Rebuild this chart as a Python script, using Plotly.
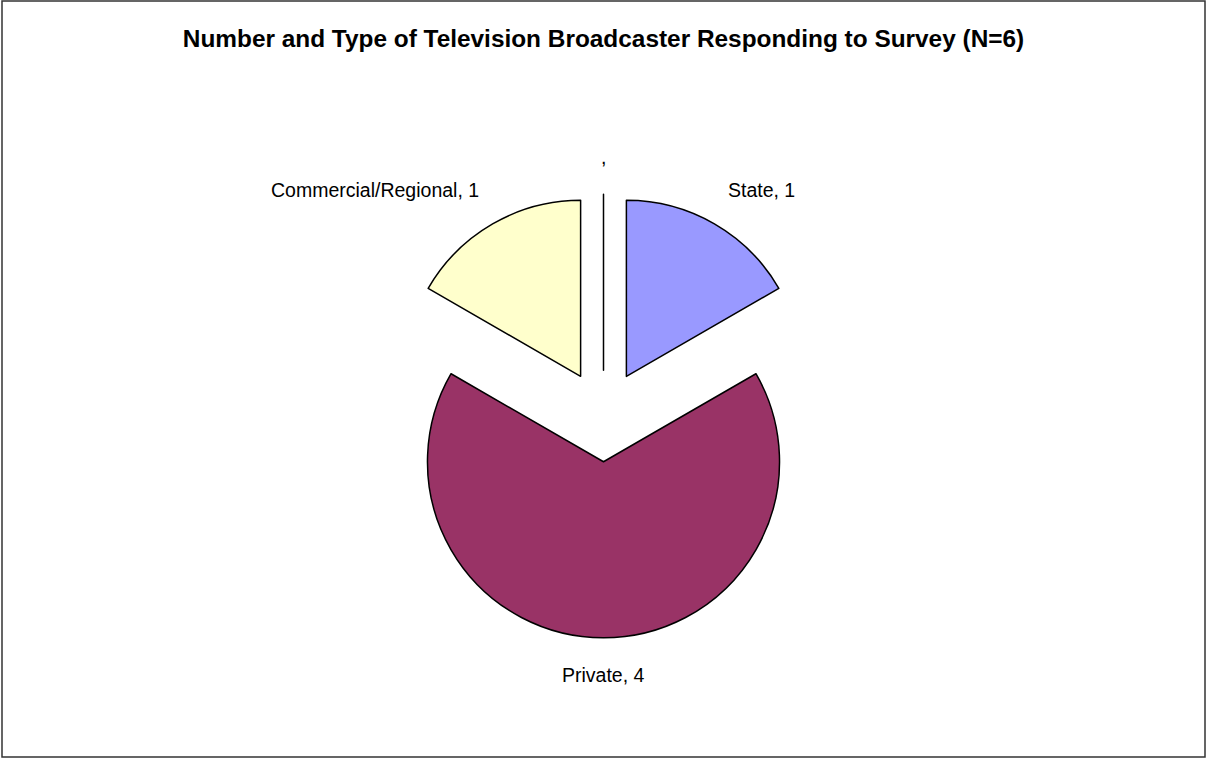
import math
import plotly.graph_objects as go

# Data
categories = ["", "State", "Private", "Commercial/Regional"]
values = [0, 1, 4, 1]
label_texts = [",", "State, 1", "Private, 4", "Commercial/Regional, 1"]
colors = ["#FFFFFF", "#9999FF", "#993366", "#FFFFCC"]
pulls = [0.26, 0.26, 0.26, 0.26]

W, H = 1207, 758
DOM_X = [0.2, 0.8]
DOM_Y = [0.1586, 0.7438]
FONT = "Liberation Sans, Arial"

fig = go.Figure(
    go.Pie(
        labels=categories,
        values=values,
        textinfo="none",
        sort=False,
        direction="clockwise",
        rotation=0,
        pull=pulls,
        marker=dict(colors=colors, line=dict(color="#000000", width=1.5)),
        hoverinfo="skip",
        showlegend=False,
        automargin=False,
        domain=dict(x=DOM_X, y=DOM_Y),
    )
)

# Label placement derived from the pie geometry (same rules plotly uses for size)
dom_w = W * (DOM_X[1] - DOM_X[0])
dom_h = H * (DOM_Y[1] - DOM_Y[0])
max_pull = max(pulls)
r = min(dom_w, dom_h) / (2 + 2 * max_pull)
cx = W * (DOM_X[0] + DOM_X[1]) / 2
cy = H * (1 - (DOM_Y[0] + DOM_Y[1]) / 2)  # from top, px
gap = 24
total = sum(values)
annotations = []
cum = 0.0
for txt, v, p in zip(label_texts, values, pulls):
    a0 = 90 - 360 * cum / total
    cum += v
    a1 = 90 - 360 * cum / total
    mid = math.radians((a0 + a1) / 2)
    dist = r + p * r + gap
    px = cx + dist * math.cos(mid)
    py = cy - dist * math.sin(mid)
    c = math.cos(mid)
    s = math.sin(mid)
    xa = "left" if c > 0.1 else ("right" if c < -0.1 else "center")
    ya = "bottom" if s > 0 else "top"
    annotations.append(dict(
        x=px / W, y=1 - py / H, xref="paper", yref="paper",
        text=txt, showarrow=False, xanchor=xa, yanchor=ya,
        font=dict(family=FONT, size=19.5, color="#000000"),
    ))

fig.update_layout(
    width=W,
    height=H,
    margin=dict(l=0, r=0, t=0, b=0, pad=0, autoexpand=False),
    paper_bgcolor="#FFFFFF",
    title=dict(
        text="<b>Number and Type of Television Broadcaster Responding to Survey (N=6)</b>",
        x=0.5,
        xanchor="center",
        y=1 - 38 / H,
        yanchor="middle",
        font=dict(family=FONT, size=24.4, color="#000000"),
    ),
    annotations=annotations,
    shapes=[
        dict(
            type="rect", xref="paper", yref="paper",
            x0=2 / W, x1=1205 / W, y0=1 / H, y1=1 - 1 / H,
            line=dict(color="#333333", width=1.5),
        )
    ],
)

fig.write_html("out.html")
